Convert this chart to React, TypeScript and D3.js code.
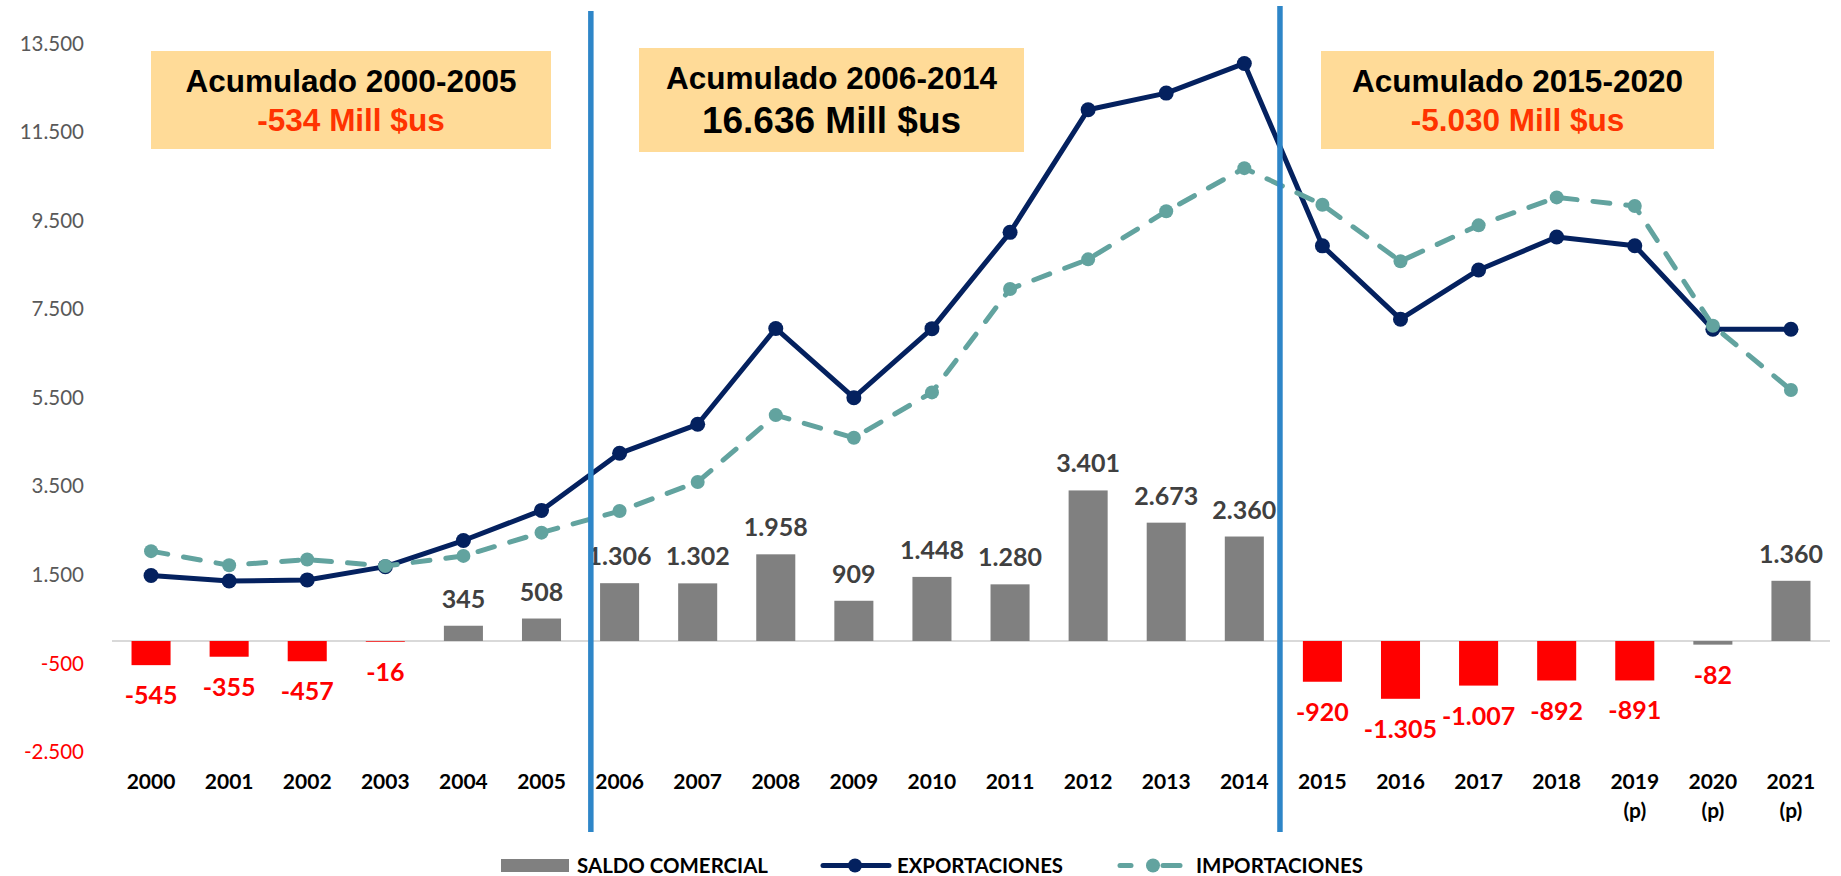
import React from "react";
import * as d3 from "d3";

// --- data (millones de $us) ---
const years = ["2000", "2001", "2002", "2003", "2004", "2005", "2006", "2007", "2008", "2009", "2010",
  "2011", "2012", "2013", "2014", "2015", "2016", "2017", "2018", "2019", "2020", "2021"];
const yearNotes = ["", "", "", "", "", "", "", "", "", "", "", "", "", "", "", "", "", "", "", "(p)", "(p)", "(p)"];
const saldo = [-545, -355, -457, -16, 345, 508, 1306, 1302, 1958, 909, 1448, 1280, 3401, 2673, 2360,
  -920, -1305, -1007, -892, -891, -82, 1360];
const exportaciones = [1480, 1355, 1380, 1680, 2270, 2950, 4240, 4895, 7060, 5495, 7055, 9230, 12000,
  12375, 13045, 8925, 7270, 8380, 9125, 8928, 7040, 7040];
const importaciones = [2030, 1712, 1840, 1695, 1922, 2448, 2935, 3593, 5102, 4590, 5615, 7950, 8620,
  9705, 10680, 9855, 8578, 9388, 10020, 9825, 7122, 5670];
const yTicks = [-2500, -500, 1500, 3500, 5500, 7500, 9500, 11500, 13500];
const periodTitles = ["Acumulado 2000-2005", "Acumulado 2006-2014", "Acumulado 2015-2020"];
const periodTotals = ["-534 Mill $us", "16.636 Mill $us", "-5.030 Mill $us"];
const seriesNames = ["SALDO COMERCIAL", "EXPORTACIONES", "IMPORTACIONES"];

const W = 1841;
const H = 876;
const NAVY = "#04215f";
const TEAL = "#62a39f";
const BLUE = "#2e86c8";
const BOX = "#ffdb98";
const FONT = "Lato, 'Open Sans', sans-serif";
const ARIAL = "'Liberation Sans', Arial, sans-serif";

const es = d3.formatLocale({ decimal: ",", thousands: ".", grouping: [3], currency: ["", ""], minus: "-" });
const fmt = es.format(",d");

export default function App() {
  const x = d3.scaleBand().domain(years).range([112, 1830]).paddingInner(0.5).paddingOuter(0.25);
  const y = d3.scaleLinear().domain([-2500, 13500]).range([751.7, 43.3]);
  const cx = (i: number) => (x(years[i]) as number) + x.bandwidth() / 2;
  const y0 = y(0);

  const line = d3.line<number>().x((_, i) => cx(i)).y(d => y(d));

  // vertical period separators, drawn between the years
  const sep1 = (cx(5) + cx(6)) / 2 + 10.3;
  const sep2 = (cx(14) + cx(15)) / 2 - 3.4;

  // the 2020 bar is left grey in the original, the other deficits are red
  const barColor = (v: number, i: number) => (v < 0 && years[i] !== "2020" ? "#ff0000" : "#808080");

  // annotation boxes (layout only)
  const boxes = [
    { x: 151, y: 51, w: 400, h: 98, t1: 91.5, t2: 130.5, s1: 31.5, s2: 31.5, c2: "#ff3300" },
    { x: 639, y: 48, w: 385, h: 104, t1: 88.5, t2: 132.5, s1: 31.5, s2: 37, c2: "#000000" },
    { x: 1321, y: 51, w: 393, h: 98, t1: 91.5, t2: 130.5, s1: 31.5, s2: 31.5, c2: "#ff3300" },
  ];

  return (
    <svg width={W} height={H} style={{ position: "absolute", left: 0, top: 0, background: "#fff" }}>
      {/* y axis labels */}
      <g fontFamily={FONT} fontSize={20.5}>
        {yTicks.map(t => (
          <text key={t} x={84} y={y(t)} dy="0.36em" textAnchor="end" fill={t < 0 ? "#ff0000" : "#595959"}>
            {fmt(t)}
          </text>
        ))}
      </g>

      {/* zero line */}
      <line x1={112} x2={1830} y1={y0} y2={y0} stroke="#d9d9d9" strokeWidth={2} />

      {/* bars */}
      {saldo.map((v, i) => (
        <rect
          key={years[i]}
          x={x(years[i])}
          width={x.bandwidth()}
          y={Math.min(y(v), y0)}
          height={Math.abs(y(v) - y0)}
          fill={barColor(v, i)}
        />
      ))}

      {/* bar labels */}
      <g fontFamily={FONT} fontSize={25} fontWeight={700} textAnchor="middle">
        {saldo.map((v, i) => (
          <text key={years[i]} x={cx(i)} y={v < 0 ? y(v) + 39 : y(v) - 18} fill={v < 0 ? "#ff0000" : "#404040"}>
            {fmt(v)}
          </text>
        ))}
      </g>

      {/* exportaciones */}
      <path d={line(exportaciones) || ""} fill="none" stroke={NAVY} strokeWidth={5} strokeLinejoin="round" />
      {exportaciones.map((v, i) => (
        <circle key={years[i]} cx={cx(i)} cy={y(v)} r={7.5} fill={NAVY} />
      ))}

      {/* importaciones */}
      <path
        d={line(importaciones) || ""}
        fill="none"
        stroke={TEAL}
        strokeWidth={5}
        strokeDasharray="17 16"
        strokeLinecap="round"
        strokeLinejoin="round"
      />
      {importaciones.map((v, i) => (
        <circle key={years[i]} cx={cx(i)} cy={y(v)} r={7} fill={TEAL} />
      ))}

      {/* x axis labels */}
      <g fontFamily={FONT} fontSize={21} fontWeight={700} textAnchor="middle" fill="#000">
        {years.map((yr, i) => (
          <text key={yr} x={cx(i)} y={789}>
            {yr}
            {yearNotes[i] && (
              <tspan x={cx(i)} y={818}>
                {yearNotes[i]}
              </tspan>
            )}
          </text>
        ))}
      </g>

      {/* period separators */}
      <line x1={sep1} x2={sep1} y1={11} y2={832} stroke={BLUE} strokeWidth={5.5} />
      <line x1={sep2} x2={sep2} y1={6} y2={832} stroke={BLUE} strokeWidth={5.5} />

      {/* accumulated boxes */}
      {boxes.map((b, i) => (
        <g key={periodTitles[i]} fontFamily={ARIAL} fontWeight={700} textAnchor="middle">
          <rect x={b.x} y={b.y} width={b.w} height={b.h} fill={BOX} />
          <text x={b.x + b.w / 2} y={b.t1} fontSize={b.s1} fill="#000">
            {periodTitles[i]}
          </text>
          <text x={b.x + b.w / 2} y={b.t2} fontSize={b.s2} fill={b.c2}>
            {periodTotals[i]}
          </text>
        </g>
      ))}

      {/* legend */}
      <g fontFamily={FONT} fontSize={21.5} fontWeight={700} fill="#000">
        <rect x={501} y={859} width={68} height={13} fill="#808080" />
        <text x={577} y={872.5} textLength={191} lengthAdjust="spacingAndGlyphs">{seriesNames[0]}</text>
        <line x1={823} x2={889} y1={865.5} y2={865.5} stroke={NAVY} strokeWidth={5} strokeLinecap="round" />
        <circle cx={855} cy={865.5} r={7} fill={NAVY} />
        <text x={897} y={872.5} textLength={166} lengthAdjust="spacingAndGlyphs">{seriesNames[1]}</text>
        <line x1={1120} x2={1131} y1={865.5} y2={865.5} stroke={TEAL} strokeWidth={5} strokeLinecap="round" />
        <line x1={1163} x2={1180} y1={865.5} y2={865.5} stroke={TEAL} strokeWidth={5} strokeLinecap="round" />
        <circle cx={1153} cy={865.5} r={7} fill={TEAL} />
        <text x={1196} y={872.5} textLength={167} lengthAdjust="spacingAndGlyphs">{seriesNames[2]}</text>
      </g>
    </svg>
  );
}
